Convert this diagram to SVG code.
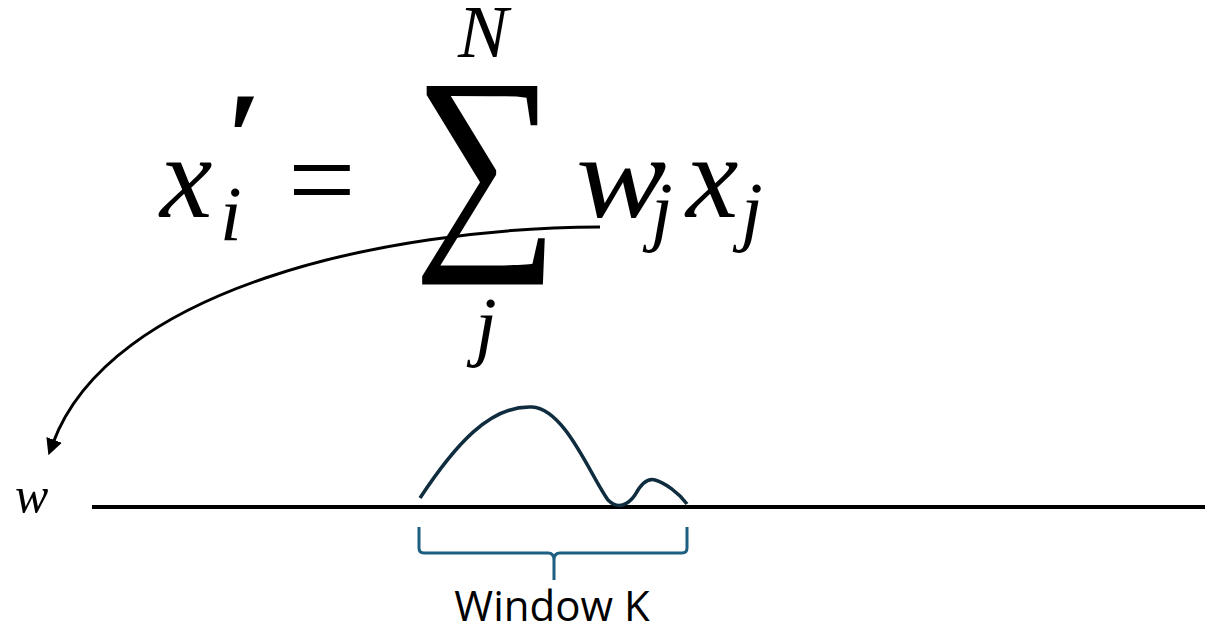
<svg xmlns="http://www.w3.org/2000/svg" width="1209" height="630" viewBox="0 0 1209 630">
<defs>
<marker id="ah" viewBox="0 0 10 10" refX="2" refY="5" markerWidth="5.5" markerHeight="5.5" orient="auto" markerUnits="strokeWidth">
<path d="M0 0 L10 5 L0 10 z" fill="#000"/>
</marker>
</defs>
<g id="equation" font-family="Liberation Serif, DejaVu Serif, serif" fill="#000">
<text x="160" y="217" font-size="118" font-style="italic">x</text>
<text x="226" y="181" font-size="130" font-weight="bold">′</text>
<text x="220" y="240" font-size="78" font-style="italic">i</text>
<text x="288" y="220" font-size="120">=</text>
<text transform="translate(413 236) scale(0.895 1)" x="0" y="0" font-size="229">∑</text>
<text x="458" y="57" font-size="75" font-style="italic">N</text>
<text x="475" y="351" font-size="78" font-style="italic">j</text>
<text transform="translate(576 217) scale(1.15 1)" x="0" y="0" font-size="118" font-style="italic">w</text>
<text x="651" y="236" font-size="78" font-style="italic">j</text>
<text x="686" y="217" font-size="118" font-style="italic">x</text>
<text x="741" y="236" font-size="78" font-style="italic">j</text>
</g>
<g id="axis">
<path d="M92 507 H1205" stroke="#000" stroke-width="4" fill="none"/>
<text x="15" y="512" font-family="Liberation Serif, DejaVu Serif, serif" font-style="italic" font-size="50" fill="#000">w</text>
</g>
<g id="kernel">
<path d="M420 498 C455 445 490 405 532 407 C565 409 590 475 608 500 C618 510 628 505 635 495 C642 482 648 478 655 480 C665 483 678 492 687 504" stroke="#0f2d3f" stroke-width="3.5" fill="none"/>
</g>
<g id="window">
<path d="M419 527 L419 548 Q419 553 424 553 L548 553 Q554 553 554 560 L554 580 M554 560 Q554 553 560 553 L682 553 Q687 553 687 548 L687 527" stroke="#1d5f80" stroke-width="3" fill="none"/>
<text x="552" y="621" font-family="Open Sans, Noto Sans, sans-serif" font-size="42" text-anchor="middle" fill="#000">Window K</text>
</g>
<g id="connectors">
<path d="M600 227 C380 228 110 290 53 443" stroke="#000" stroke-width="3" fill="none" marker-end="url(#ah)"/>
</g>
</svg>
